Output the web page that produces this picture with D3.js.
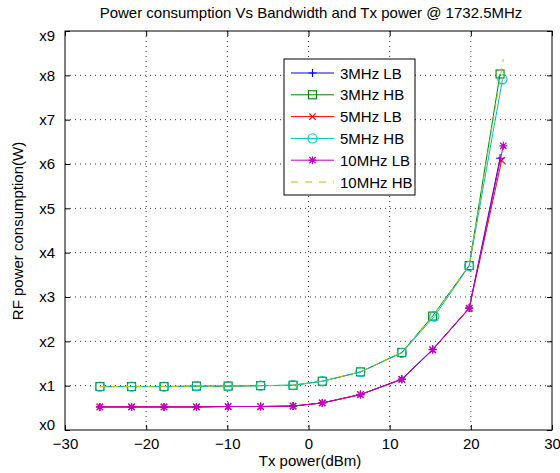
<!DOCTYPE html>
<html><head><meta charset="utf-8">
<script src="https://cdn.jsdelivr.net/npm/d3@7"></script>
<style>body{margin:0;background:#fff}svg{display:block;font-family:"Liberation Sans",Arial,sans-serif}</style>
</head><body>
<svg id="c" width="560" height="473"></svg>
<script>
const xTicks = [-30,-20,-10,0,10,20,30];
const yTicks = [0,1,2,3,4,5,6,7,8,9];
const yTickLabels = ["x0","x1","x2","x3","x4","x5","x6","x7","x8","x9"];
const seriesNames = ["3MHz LB","3MHz HB","5MHz LB","5MHz HB","10MHz LB","10MHz HB"];
const x3LB = [-25.7,-21.8,-17.8,-13.8,-9.9,-5.9,-1.9,1.7,6.4,11.5,15.3,19.8,23.6];
const y3LB = [0.52,0.52,0.52,0.52,0.53,0.53,0.54,0.61,0.80,1.15,1.82,2.75,6.13];
const x3HB = [-25.7,-21.8,-17.8,-13.8,-9.9,-5.9,-1.9,1.7,6.4,11.5,15.3,19.8,23.6];
const y3HB = [0.98,0.98,0.98,0.99,0.99,1.00,1.01,1.10,1.31,1.75,2.57,3.71,8.03];
const x5LB = [-25.7,-21.8,-17.8,-13.8,-9.9,-5.9,-1.9,1.7,6.4,11.5,15.3,19.8,23.8];
const y5LB = [0.52,0.52,0.52,0.52,0.53,0.53,0.54,0.61,0.80,1.14,1.81,2.74,6.08];
const x5HB = [-25.7,-21.8,-17.8,-13.8,-9.9,-5.9,-1.9,1.7,6.4,11.5,15.5,19.8,23.9];
const y5HB = [0.98,0.98,0.98,0.99,0.99,1.00,1.01,1.10,1.31,1.74,2.56,3.70,7.91];
const x10LB = [-25.7,-21.8,-17.8,-13.8,-9.9,-5.9,-1.9,1.7,6.4,11.5,15.3,19.8,24.0];
const y10LB = [0.52,0.52,0.52,0.52,0.53,0.53,0.54,0.61,0.80,1.14,1.81,2.75,6.41];
const x10HB = [-25.7,-21.8,-17.8,-13.8,-9.9,-5.9,-1.9,1.7,6.4,11.5,15.3,19.8,24.0];
const y10HB = [0.98,0.98,0.98,0.99,0.99,1.00,1.01,1.10,1.31,1.75,2.57,3.71,8.37];

const svg = d3.select("#c");
const L=65, R=552, T=31, B=430;
const FS = 15;
const x = d3.scaleLinear().domain([-30,30]).range([L,R]);
const y = d3.scaleLinear().domain([0,9]).range([B,T]);

// grid
const g = svg.append("g");
xTicks.slice(1,-1).forEach(t=>g.append("line").attr("x1",x(t)).attr("x2",x(t)).attr("y1",T).attr("y2",B)
  .attr("stroke","#000").attr("stroke-width",0.8).attr("stroke-dasharray","1,4"));
yTicks.slice(1,-1).forEach(t=>g.append("line").attr("x1",L).attr("x2",R).attr("y1",y(t)).attr("y2",y(t))
  .attr("stroke","#000").attr("stroke-width",0.8).attr("stroke-dasharray","1,4"));

// axes with inward ticks
const xa = svg.append("g").attr("transform",`translate(0,${B})`)
  .call(d3.axisBottom(x).tickValues(xTicks).tickSize(-5).tickPadding(8).tickFormat(d=>d<0?"\u2212"+Math.abs(d):d));
const xt = svg.append("g").attr("transform",`translate(0,${T})`)
  .call(d3.axisTop(x).tickValues(xTicks).tickSize(-5).tickFormat(""));
const ya = svg.append("g").attr("transform",`translate(${L},0)`)
  .call(d3.axisLeft(y).tickValues(yTicks).tickSize(-5).tickPadding(10).tickFormat((d,i)=>yTickLabels[i]));
const yr = svg.append("g").attr("transform",`translate(${R},0)`)
  .call(d3.axisRight(y).tickValues(yTicks).tickSize(-5).tickFormat(""));
[xa,xt,ya,yr].forEach(a=>{a.select(".domain").remove();a.selectAll("line").attr("stroke","#000");
  a.selectAll("text").attr("font-size",FS).attr("fill","#000").attr("font-family","Liberation Sans, Arial, sans-serif");});
ya.selectAll(".tick text").attr("dy",(d)=> d===0?"-0.05em":(d===9?"0.65em":"0.32em"));
svg.append("rect").attr("x",L).attr("y",T).attr("width",R-L).attr("height",B-T).attr("fill","none").attr("stroke","#000").attr("stroke-width",1);

// titles
svg.append("text").attr("x",311).attr("y",18).attr("text-anchor","middle").attr("font-size",FS).text("Power consumption Vs Bandwidth and Tx power @ 1732.5MHz");
svg.append("text").attr("x",310).attr("y",466).attr("text-anchor","middle").attr("font-size",FS).text("Tx power(dBm)");
svg.append("text").attr("transform","translate(23,231) rotate(-90)").attr("text-anchor","middle").attr("font-size",FS).text("RF power consumption(W)");

function marker(sel, type, color, cx, cy){
  const s=4;
  if(type==="plus"){
    sel.append("path").attr("d",`M${cx-s},${cy}H${cx+s}M${cx},${cy-s}V${cy+s}`).attr("stroke",color).attr("stroke-width",1.2).attr("fill","none");
  } else if(type==="square"){
    sel.append("rect").attr("x",cx-4).attr("y",cy-4).attr("width",8).attr("height",8).attr("stroke",color).attr("fill","none").attr("stroke-width",1.1);
  } else if(type==="x"){
    const k=3.2;
    sel.append("path").attr("d",`M${cx-k},${cy-k}L${cx+k},${cy+k}M${cx-k},${cy+k}L${cx+k},${cy-k}`).attr("stroke",color).attr("stroke-width",1.2).attr("fill","none");
  } else if(type==="circle"){
    sel.append("circle").attr("cx",cx).attr("cy",cy).attr("r",4.6).attr("stroke",color).attr("fill","none").attr("stroke-width",1.1);
  } else if(type==="star"){
    const k=3.2;
    sel.append("path").attr("d",`M${cx-s},${cy}H${cx+s}M${cx},${cy-s}V${cy+s}M${cx-k},${cy-k}L${cx+k},${cy+k}M${cx-k},${cy+k}L${cx+k},${cy-k}`).attr("stroke",color).attr("stroke-width",1.2).attr("fill","none");
  }
}

const series = [
  {name:seriesNames[0], xs:x3LB, ys:y3LB, color:"#0000ff", m:"plus"},
  {name:seriesNames[1], xs:x3HB, ys:y3HB, color:"#008000", m:"square"},
  {name:seriesNames[2], xs:x5LB, ys:y5LB, color:"#ff0000", m:"x"},
  {name:seriesNames[3], xs:x5HB, ys:y5HB, color:"#00bfbf", m:"circle"},
  {name:seriesNames[4], xs:x10LB, ys:y10LB, color:"#bf00bf", m:"star"},
  {name:seriesNames[5], xs:x10HB, ys:y10HB, color:"#bfbf00", m:null, dash:"6,6"}
];
const line = d3.line().x(d=>x(d[0])).y(d=>y(d[1]));
const plot = svg.append("g");
series.forEach(s=>{
  const pts = s.xs.map((v,i)=>[v,s.ys[i]]);
  plot.append("path").attr("d",line(pts)).attr("fill","none").attr("stroke",s.color).attr("stroke-width",1)
    .attr("stroke-dasharray",s.dash||null);
  if(s.m) pts.forEach(p=>marker(plot,s.m,s.color,x(p[0]),y(p[1])));
});

// legend
const lg = svg.append("g");
lg.append("rect").attr("x",284).attr("y",59).attr("width",131).attr("height",136).attr("fill","#fff").attr("stroke","#000").attr("stroke-width",1);
series.forEach((s,i)=>{
  const ly = 73 + i*21.8;
  lg.append("line").attr("x1",291).attr("x2",334).attr("y1",ly).attr("y2",ly).attr("stroke",s.color).attr("stroke-width",1)
    .attr("stroke-dasharray",s.dash?"7,7":null);
  if(s.m) marker(lg,s.m,s.color,312.5,ly);
  lg.append("text").attr("x",340).attr("y",ly+5.5).attr("font-size",FS).text(s.name);
});
</script>
</body></html>
